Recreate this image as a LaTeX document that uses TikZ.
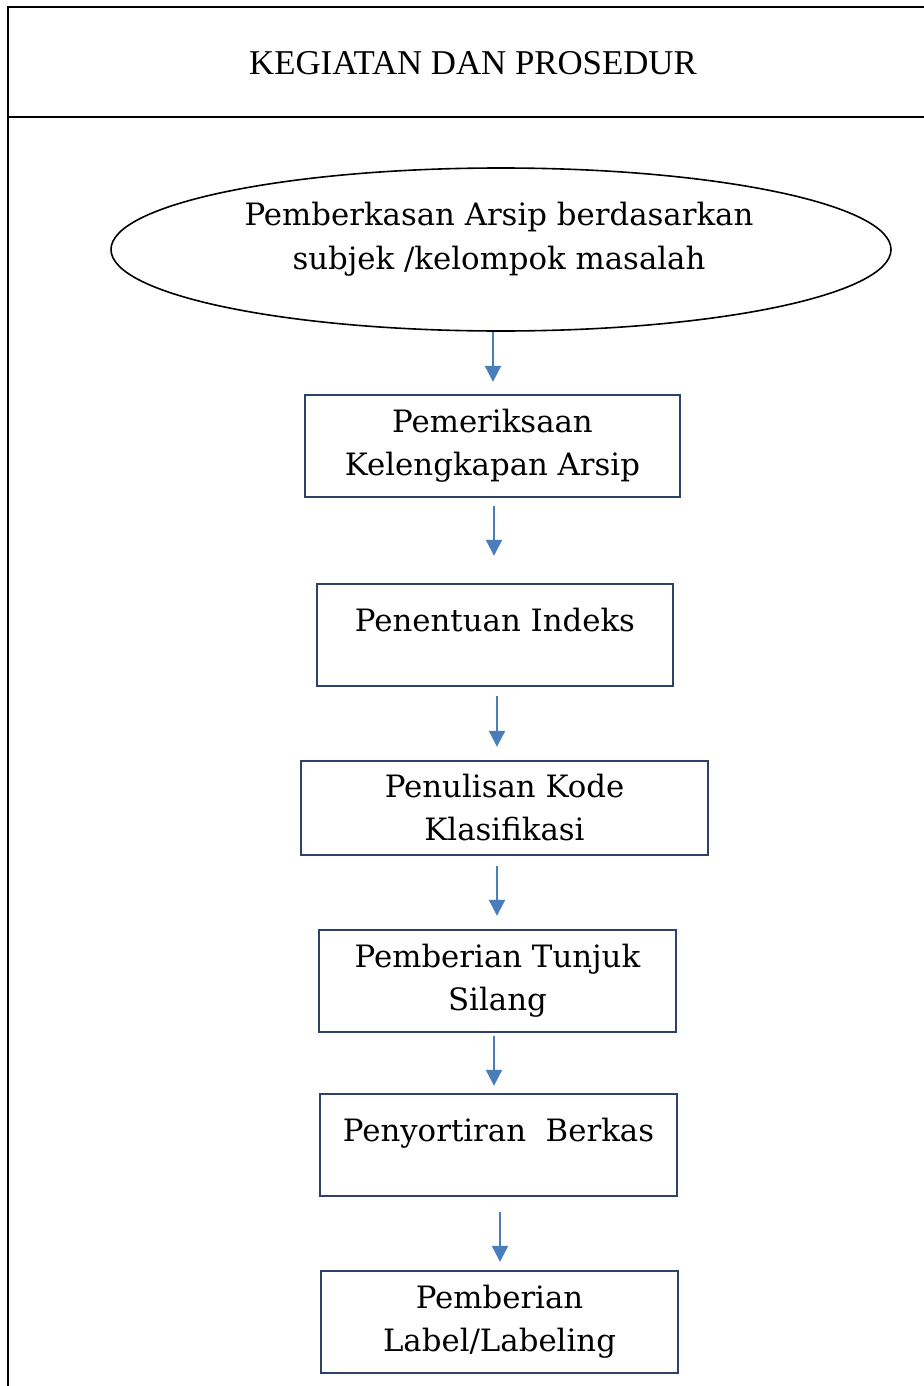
\documentclass[tikz,border=0pt]{standalone}
\usepackage{fontspec}
\setmainfont{DejaVu Serif}
\newfontfamily\headfont{Liberation Serif}
\usetikzlibrary{calc}
\usetikzlibrary{positioning}
\usetikzlibrary{shapes.geometric}
\usetikzlibrary{arrows.meta}

\definecolor{boxblue}{RGB}{44,66,105}
\definecolor{arrowblue}{RGB}{74,126,187}

\tikzset{
  stepbox/.style={draw=boxblue,line width=1.2pt,minimum height=51pt,inner sep=0pt,
    align=center,font=\fontsize{15.4}{21.5}\selectfont},
  flow/.style={draw=arrowblue,line width=1.1pt,-{Triangle[width=8pt,length=8pt]}}
}

\begin{document}
\begin{tikzpicture}[x=0.5pt,y=-0.5pt]
\useasboundingbox (0,0) rectangle (924,1386);
% table frame
\draw[line width=1.4pt] (8,1386) -- (8,7) -- (924,7);
\draw[line width=1.4pt] (8,117) -- (924,117);
\node[font=\headfont\fontsize{17.4}{20}\selectfont] (head) at (473,63) {KEGIATAN DAN PROSEDUR};

% start
\node[draw,ellipse,line width=0.8pt,minimum width=390pt,minimum height=81.5pt,inner sep=0pt] (start) at (501,249.5) {};
\node[align=center,font=\fontsize{15.4}{22}\selectfont] (starttxt) at (499,239) {Pemberkasan Arsip berdasarkan\\subjek /kelompok masalah};

% steps
\node[stepbox,minimum width=187.5pt] (periksa) at (492.5,446) {Pemeriksaan\\Kelengkapan Arsip};
\node[stepbox,minimum width=178pt] (indeks) at (495,635) {Penentuan Indeks\\[-6pt]~};
\node[stepbox,minimum width=203.5pt,minimum height=47pt] (kode) at (504.5,808) {Penulisan Kode\\Klasifikasi};
\node[stepbox,minimum width=178.5pt] (silang) at (497.5,981) {Pemberian Tunjuk\\Silang};
\node[stepbox,minimum width=178.5pt] (sortir) at (498.5,1145) {Penyortiran~ Berkas\\[-6pt]~};
\node[stepbox,minimum width=178.5pt] (label) at (499.5,1322) {Pemberian\\Label/Labeling};

% arrows
\draw[flow,shorten >=6pt] (start.south -| 493,0) -- (periksa.north -| 493,0);
\draw[flow,shorten <=4pt,shorten >=13.5pt] (periksa.south -| 494,0) -- (indeks.north -| 494,0);
\draw[flow,shorten <=4.5pt,shorten >=6.5pt] (indeks.south -| 497,0) -- (kode.north -| 497,0);
\draw[flow,shorten <=5pt,shorten >=6.5pt] (kode.south -| 497,0) -- (silang.north -| 497,0);
\draw[flow,shorten <=1.5pt,shorten >=3.5pt] (silang.south -| 494,0) -- (sortir.north -| 494,0);
\draw[flow,shorten <=7.5pt,shorten >=4pt] (sortir.south -| 500,0) -- (label.north -| 500,0);
\end{tikzpicture}
\end{document}
